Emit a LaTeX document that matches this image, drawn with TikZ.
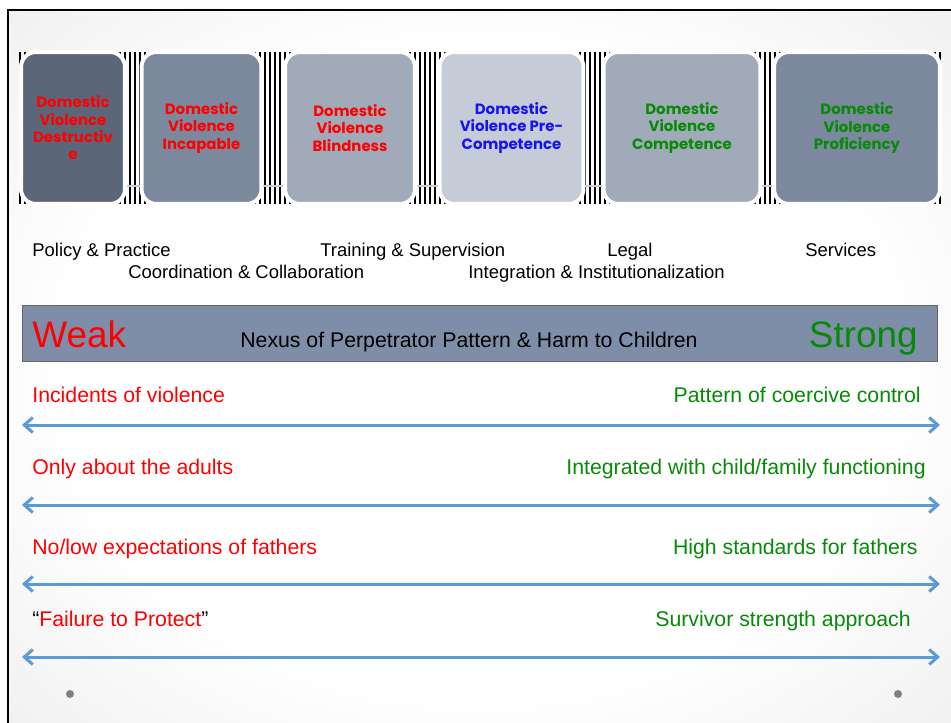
\documentclass[tikz,border=0pt]{standalone}
\usepackage{fontspec}
\setmainfont{Liberation Sans}
\newfontfamily\boxfont{Poppins}
\usetikzlibrary{arrows.meta, positioning}

\definecolor{slatea}{HTML}{5B6679}
\definecolor{slateb}{HTML}{7B889E}
\definecolor{slatec}{HTML}{A1AAB8}
\definecolor{slated}{HTML}{C6CCD7}
\definecolor{barfill}{HTML}{7F8EA8}
\definecolor{spanblue}{HTML}{5B9BD5}
\definecolor{dvred}{HTML}{FF0000}
\definecolor{dvgreen}{HTML}{078A07}
\definecolor{dvblue}{HTML}{1414F0}
\definecolor{bgedge}{HTML}{D4D4D4}
\pgfdeclareradialshading{slidebg}{\pgfpoint{0bp}{0bp}}{color(0bp)=(white); color(9bp)=(white); color(25bp)=(bgedge); color(50bp)=(bgedge)}

\begin{document}
\begin{tikzpicture}[x=0.02cm, y=-0.02cm,
        stage/.style={draw=white, line width=0.08cm, rounded corners=0.3cm, minimum height=3.04cm,
            align=center, inner sep=0pt, font=\boxfont\bfseries\fontsize{8.5}{9.85}\selectfont},
        stripe/.style={black, line width=0.025cm},
        link/.style={draw=slated, line width=0.04cm},
        cat/.style={anchor=base west, inner sep=0pt, font=\fontsize{10.5}{12}\selectfont},
        weakside/.style={anchor=base west, inner sep=0pt, text=dvred, font=\fontsize{12.1}{14}\selectfont},
        strongside/.style={anchor=base east, inner sep=0pt, text=dvgreen, font=\fontsize{12.1}{14}\selectfont},
        spanarrow/.style={draw=spanblue, line width=0.06cm,
            arrows={Straight Barb[length=0.17cm,width=0.3cm]-Straight Barb[length=0.17cm,width=0.3cm]}}]
        %
        \useasboundingbox (0,0) rectangle (951,723);
        \begin{scope}
            \clip (8,10) rectangle (951,723);
            \shade[shading=slidebg] (480,370) ellipse (1150 and 900);
        \end{scope}
        \draw[line width=0.05cm] (8,723) -- (8,10) -- (951,10);
        %
        \foreach \x in {20,25,...,940}
            \draw[stripe] (\x,52) -- (\x,204);
        \coordinate (cy) at (0,186);
        %
        \node[stage, fill=slatea, minimum width=2.08cm, text=dvred] (b1) at (73,128) {Domestic\\Violence\\Destructiv\\e};
        \node[stage, fill=slateb, minimum width=2.4cm, text=dvred] (b2) at (201.5,128) {Domestic\\Violence\\Incapable};
        \node[stage, fill=slatec, minimum width=2.6cm, text=dvred] (b3) at (350,128) {Domestic\\Violence\\Blindness};
        \node[stage, fill=slated, minimum width=2.88cm, text=dvblue] (b4) at (511.5,128) {Domestic\\Violence Pre-\\Competence};
        \node[stage, fill=slatec, minimum width=3.14cm, text=dvgreen] (b5) at (682,128) {Domestic\\Violence\\Competence};
        \node[stage, fill=slateb, minimum width=3.32cm, text=dvgreen] (b6) at (857,128) {Domestic\\Violence\\Proficiency};
        %
        \draw[link] (b1.east |- cy) -- (b2.west |- cy);
        \draw[link] (b2.east |- cy) -- (b3.west |- cy);
        \draw[link] (b3.east |- cy) -- (b4.west |- cy);
        \draw[link] (b4.east |- cy) -- (b5.west |- cy);
        \draw[link] (b5.east |- cy) -- (b6.west |- cy);
        %
        \node[cat] (policy) at (32,256) {Policy \& Practice};
        \node[cat] (training) at (320,256) {Training \& Supervision};
        \node[cat] (legal) at (607,256) {Legal};
        \node[cat] (services) at (805,256) {Services};
        \node[cat] (coord) at (128,278) {Coordination \& Collaboration};
        \node[cat] (integ) at (468,278) {Integration \& Institutionalization};
        %
        \node[draw=black!60, fill=barfill, minimum width=18.3cm, minimum height=1.12cm, inner sep=0pt] (bar) at (479.5,333) {};
        \node[weakside, font=\fontsize{21}{24}\selectfont] (weak) at (32,347) {Weak};
        \node[anchor=base west, inner sep=0pt, font=\fontsize{12.1}{14}\selectfont] (nexus) at (240,347) {Nexus of Perpetrator Pattern \& Harm to Children};
        \node[strongside, font=\fontsize{21}{24}\selectfont] (strong) at (918,347) {Strong};
        %
        \node[weakside] (w1) at (32,402) {Incidents of violence};
        \node[strongside] (s1) at (921,402) {Pattern of coercive control};
        \node[weakside] (w2) at (32,474) {Only about the adults};
        \node[strongside] (s2) at (926,474) {Integrated with child/family functioning};
        \node[weakside] (w3) at (32,554) {No/low expectations of fathers};
        \node[strongside] (s3) at (918,554) {High standards for fathers};
        \node[weakside] (w4) at (32,626) {\textcolor{black}{“}Failure to Protect\textcolor{black}{”}};
        \node[strongside] (s4) at (911,626) {Survivor strength approach};
        %
        \foreach \y [count=\i] in {425,505,584,657} {
            \coordinate (l\i) at (22,\y);
            \coordinate (r\i) at (940,\y);
            \draw[spanarrow] (l\i) -- (r\i);
        }
        %
        \fill[gray] (70,694) circle (4);
        \fill[gray] (898,694) circle (4);
        \end{tikzpicture}
\end{document}
